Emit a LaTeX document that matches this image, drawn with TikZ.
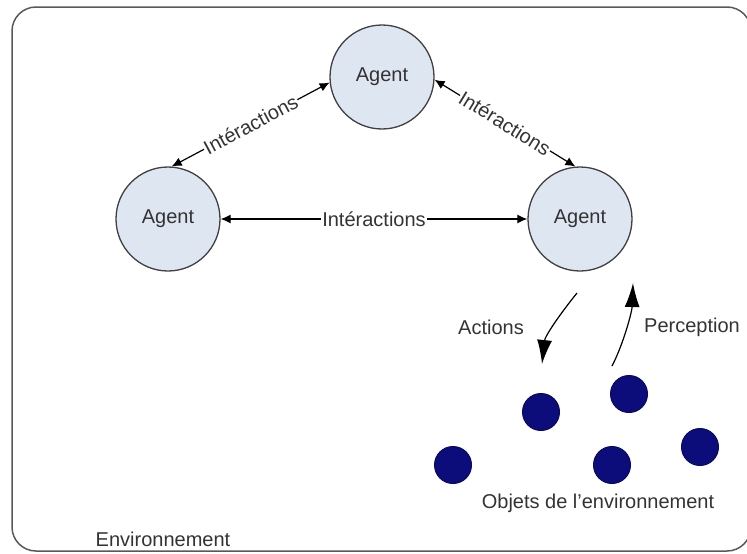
\documentclass[tikz,border=0pt]{standalone}
\usepackage{fontspec}
\setmainfont{Liberation Sans}
\usetikzlibrary{arrows.meta}
\definecolor{agentFill}{RGB}{222,230,242}
\definecolor{objetBlue}{RGB}{12,12,122}
\colorlet{textGray}{black!80}

\begin{document}
\begin{tikzpicture}[x=1pt, y=-1pt,
  every node/.style={font=\fontsize{20}{23}\selectfont, text=textGray},
  agent/.style={circle, draw=black!75, fill=agentFill, line width=1.3pt, minimum size=104pt, inner sep=0pt},
  objet/.style={circle, draw=objetBlue!80!black, fill=objetBlue, line width=1pt, minimum size=37pt, inner sep=0pt},
  lien/.style={line width=1.2pt, {Latex[length=10pt,width=9pt]}-{Latex[length=10pt,width=9pt]}},
  flux/.style={line width=1.2pt, -{Latex[length=24pt,width=15pt]}},
  etiq/.style={midway, sloped, fill=white, inner sep=1pt}]
  \useasboundingbox (0,0) rectangle (747,554);
  \draw[line width=1.5pt, black!65, rounded corners=24pt] (12,7) rectangle (751,551);

  % agents
  \node[agent] (haut) at (382,77) {Agent};
  \node[agent] (gauche) at (168,219) {Agent};
  \node[agent] (droite) at (580,219) {Agent};
  \draw[lien] (haut.186) -- node[etiq] {Intéractions} (gauche.86);
  \draw[lien] (haut.357) -- node[etiq] {Intéractions} (droite.95);
  \draw[lien] (gauche) -- node[fill=white, inner sep=1pt] {Intéractions} (droite);

  % actions / perception
  \coordinate (actDebut) at (577,293);
  \coordinate (actFin) at (542,364);
  \coordinate (perDebut) at (612,366);
  \coordinate (perFin) at (633,283);
  \draw[flux] (actDebut) .. controls (560,314) and (545,336) .. (actFin);
  \draw[flux] (perDebut) .. controls (623,345) and (632,312) .. (perFin);
  \node (actions) at (491,327) {Actions};
  \node (perception) at (692,327) {Perception};

  % objets
  \foreach \nom/\x/\y in {o1/541/412, o2/629/394, o3/453/465, o4/612/465, o5/700/447}
    \node[objet] (\nom) at (\x,\y) {};
  \node (objets) at (598,503) {Objets de l'environnement};
  \node (env) at (163,539) {Environnement};
\end{tikzpicture}
\end{document}
